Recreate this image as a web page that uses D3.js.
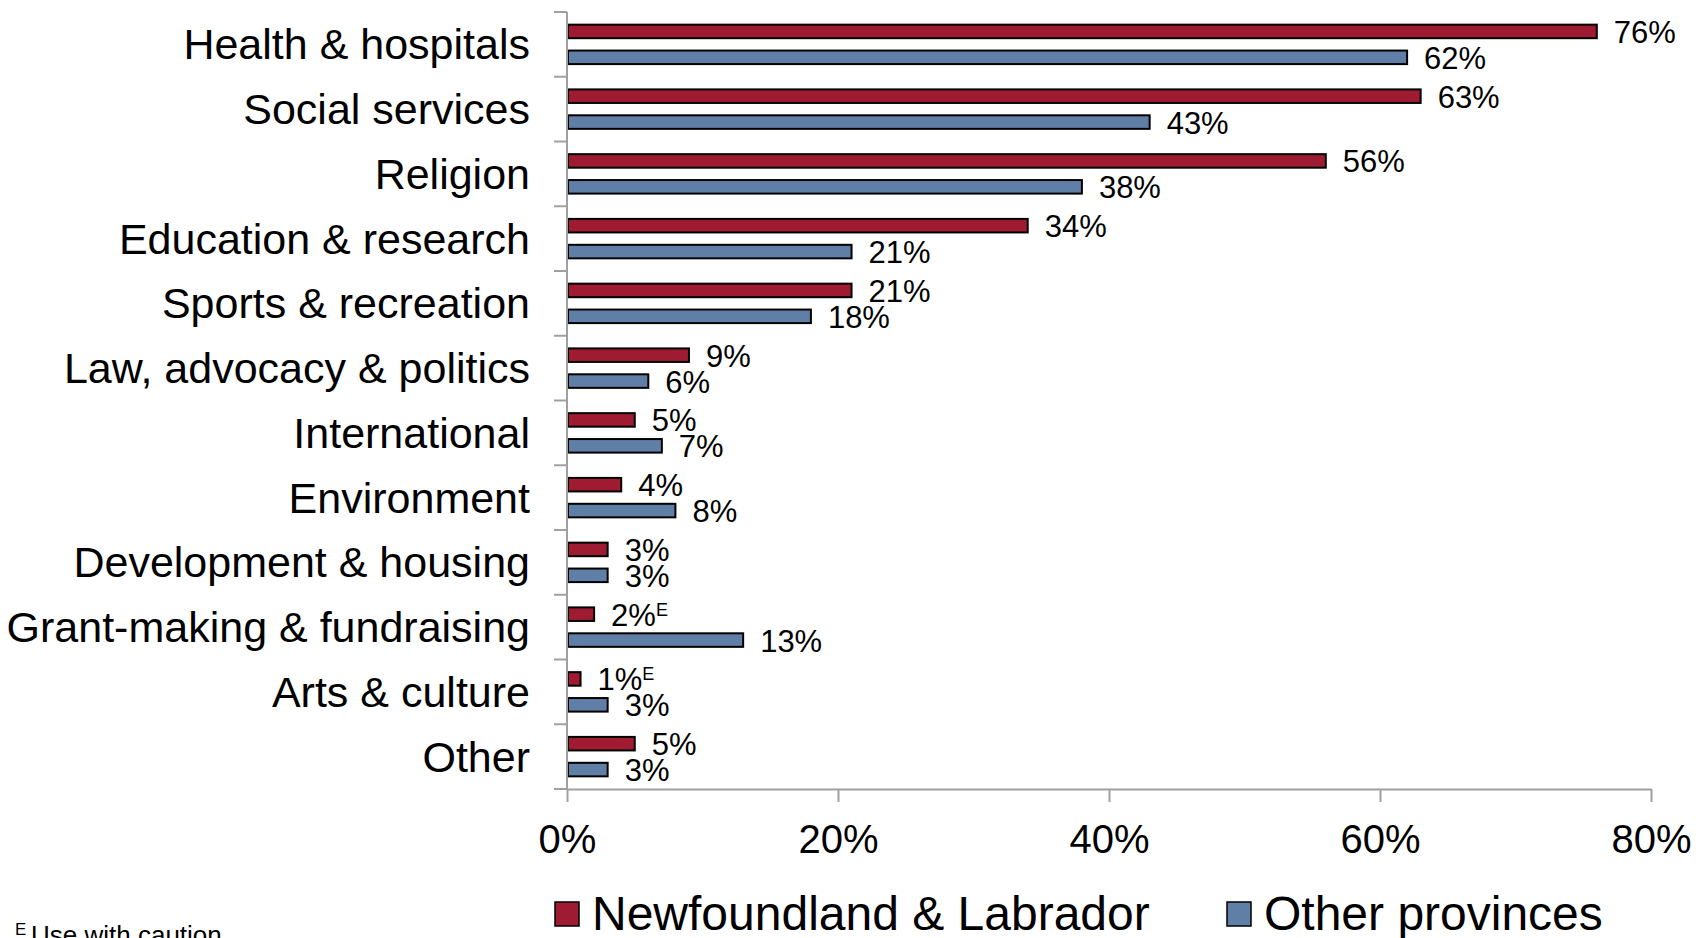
<!DOCTYPE html>
<html>
<head>
<meta charset="utf-8">
<script src="https://cdn.jsdelivr.net/npm/d3@7"></script>
<style>
  html, body { margin: 0; padding: 0; background: #fff; }
  svg { display: block; }
  text { font-family: "Liberation Sans", Arial, sans-serif; fill: #000; }
</style>
</head>
<body>
<svg id="chart" width="1696" height="938"></svg>
<script>
const categories = [
  "Health & hospitals", "Social services", "Religion", "Education & research",
  "Sports & recreation", "Law, advocacy & politics", "International", "Environment",
  "Development & housing", "Grant-making & fundraising", "Arts & culture", "Other"
];
const nlValues    = [76, 63, 56, 34, 21, 9, 5, 4, 3, 2, 1, 5];
const otherValues = [62, 43, 38, 21, 18, 6, 7, 8, 3, 13, 3, 3];
const nlFlags     = ["", "", "", "", "", "", "", "", "", "E", "E", ""];
const otherFlags  = ["", "", "", "", "", "", "", "", "", "", "", ""];
const seriesNames = ["Newfoundland & Labrador", "Other provinces"];
const seriesColors = ["#9E1B32", "#5F7FA7"];
const xTicks = [0, 20, 40, 60, 80];
const footnoteMark = "E";
const footnoteText = "Use with caution";

(function () {
const svg = d3.select("#chart");
const pLeft = 567, pRight = 1651, pTop = 12, pBottom = 789;
const axisColor = "#A0A0A0";

const x = d3.scaleLinear().domain([0, 80]).range([pLeft, pRight]);
const y = d3.scaleBand().domain(categories).range([pTop, pBottom]).padding(0);
const inner = d3.scaleBand().domain(seriesNames).range([0, y.bandwidth()])
  .paddingInner(0.4).paddingOuter(0.45);

const rows = categories.map((c, i) => ({
  cat: c,
  vals: [
    { s: seriesNames[0], v: nlValues[i], f: nlFlags[i], color: seriesColors[0] },
    { s: seriesNames[1], v: otherValues[i], f: otherFlags[i], color: seriesColors[1] }
  ]
}));

// Bars
const g = svg.append("g");
const rowG = g.selectAll("g.row").data(rows).join("g")
  .attr("class", "row")
  .attr("transform", d => `translate(0,${y(d.cat)})`);

rowG.selectAll("rect").data(d => d.vals).join("rect")
  .attr("x", x(0) + 1)
  .attr("y", d => inner(d.s) + 1)
  .attr("width", d => x(d.v) - x(0) - 1)
  .attr("height", inner.bandwidth() - 2)
  .attr("fill", d => d.color)
  .attr("stroke", "#000")
  .attr("stroke-width", 2);

// Value labels
const lbl = rowG.selectAll("text.val").data(d => d.vals).join("text")
  .attr("class", "val")
  .attr("x", d => x(d.v) + 17)
  .attr("y", d => inner(d.s) + inner.bandwidth() / 2)
  .attr("dy", "0.37em")
  .style("font-size", "31px");
lbl.append("tspan").text(d => d.v + "%");
lbl.filter(d => d.f).append("tspan")
  .attr("dy", -10)
  .style("font-size", "18px")
  .text(d => d.f);

// Y axis (line + boundary ticks)
const yAxis = svg.append("g");
yAxis.append("line")
  .attr("x1", pLeft).attr("x2", pLeft).attr("y1", pTop).attr("y2", pBottom)
  .attr("stroke", axisColor).attr("stroke-width", 2);
yAxis.selectAll("line.tick").data(d3.range(categories.length + 1)).join("line")
  .attr("class", "tick")
  .attr("x1", pLeft - 13).attr("x2", pLeft)
  .attr("y1", i => pTop + i * y.step()).attr("y2", i => pTop + i * y.step())
  .attr("stroke", axisColor).attr("stroke-width", 2);

// Category labels
svg.append("g").selectAll("text").data(categories).join("text")
  .attr("x", 530)
  .attr("y", d => y(d) + y.bandwidth() / 2)
  .attr("dy", "0.35em")
  .attr("text-anchor", "end")
  .style("font-size", "43px")
  .text(d => d);

// X axis
const xAxis = svg.append("g")
  .attr("transform", `translate(0,${pBottom})`)
  .call(d3.axisBottom(x).tickValues(xTicks).tickFormat(d => d + "%")
    .tickSize(13).tickPadding(23).tickSizeOuter(0));
xAxis.select(".domain").attr("stroke", axisColor).attr("stroke-width", 2);
xAxis.selectAll(".tick line").attr("stroke", axisColor).attr("stroke-width", 2);
xAxis.selectAll(".tick text")
  .attr("fill", "#000")
  .style("font-family", '"Liberation Sans", Arial, sans-serif')
  .style("font-size", "40px");

// Legend
const legendX = [555, 1227];
const leg = svg.append("g").selectAll("g").data(seriesNames).join("g")
  .attr("transform", (d, i) => `translate(${legendX[i]},902)`);
leg.append("rect")
  .attr("x", 0).attr("y", 0).attr("width", 24).attr("height", 24)
  .attr("fill", (d, i) => seriesColors[i])
  .attr("stroke", "#000").attr("stroke-width", 1.5);
leg.append("text")
  .attr("x", 37)
  .attr("y", 28)
  .style("font-size", "48px")
  .text(d => d);

// Footnote
const fn = svg.append("text").attr("x", 15).attr("y", 944).style("font-size", "26px");
fn.append("tspan").attr("dy", -9).style("font-size", "17px").text(footnoteMark);
fn.append("tspan").attr("x", 31).attr("dy", 9).text(footnoteText);
})();
</script>
</body>
</html>
